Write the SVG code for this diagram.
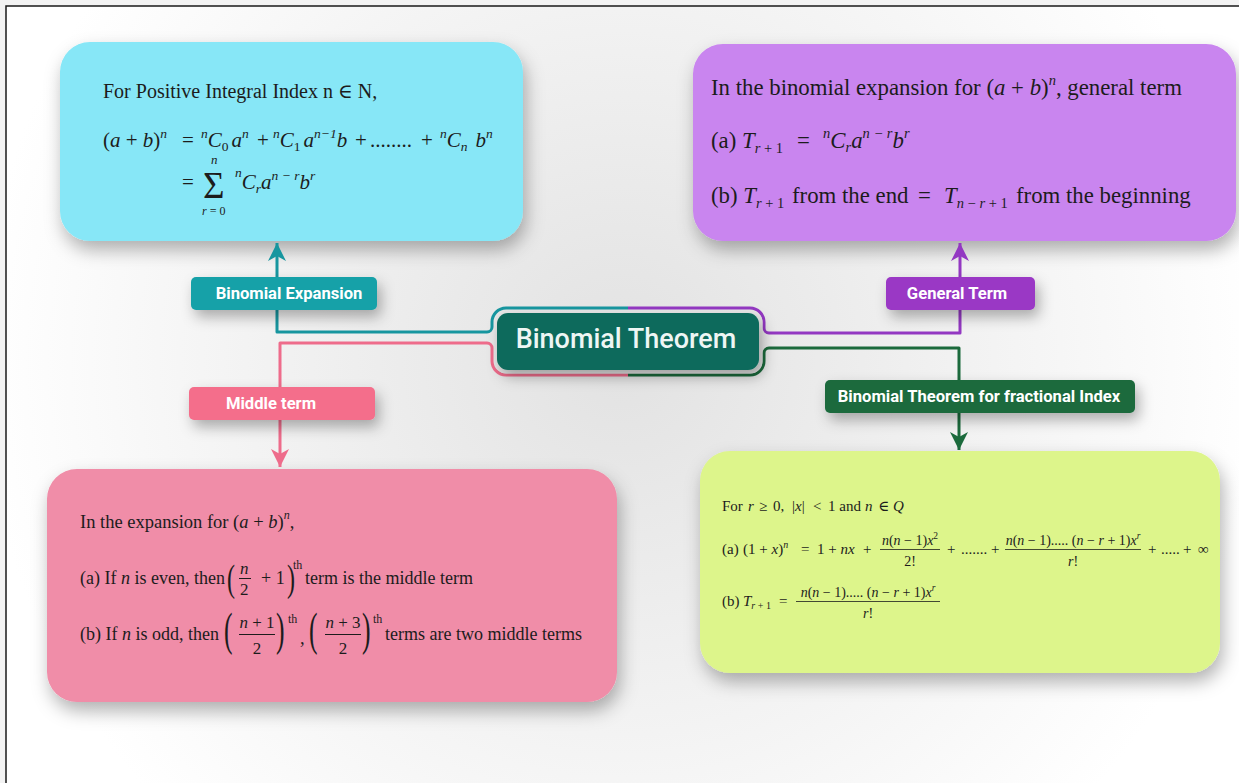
<svg xmlns="http://www.w3.org/2000/svg" width="1239" height="783" viewBox="0 0 1239 783">
<defs>
<style>
.s{font-family:"Liberation Serif","DejaVu Serif",serif;fill:#1c1c1c}
.i{font-style:italic}
.lbl{font-family:Roboto,"Liberation Sans",sans-serif;font-weight:700;fill:#ffffff;font-size:16.6px}
.box{filter:url(#sh)}
.ln{fill:none;stroke-width:3;stroke-linejoin:round}
.bar{stroke:#1c1c1c}
</style>
<radialGradient id="bg" cx="620" cy="360" r="640" gradientUnits="userSpaceOnUse">
<stop offset="0" stop-color="#e2e2e2"/>
<stop offset="0.55" stop-color="#f2f2f2"/>
<stop offset="1" stop-color="#ffffff"/>
</radialGradient>
<filter id="sh" x="-15%" y="-15%" width="135%" height="145%">
<feDropShadow dx="3" dy="9" stdDeviation="9" flood-color="#000" flood-opacity="0.3"/>
</filter>
<filter id="sh2" x="-20%" y="-40%" width="150%" height="220%">
<feDropShadow dx="4" dy="7" stdDeviation="7" flood-color="#000" flood-opacity="0.3"/>
</filter>
<marker id="aT" markerUnits="userSpaceOnUse" markerWidth="20" markerHeight="20" refX="18" refY="9" orient="auto"><path d="M0,0 L18,9 L0,18 L5,9 Z" fill="#17969f"/></marker>
<marker id="aP" markerUnits="userSpaceOnUse" markerWidth="20" markerHeight="20" refX="18" refY="9" orient="auto"><path d="M0,0 L18,9 L0,18 L5,9 Z" fill="#9338c2"/></marker>
<marker id="aK" markerUnits="userSpaceOnUse" markerWidth="20" markerHeight="20" refX="18" refY="9" orient="auto"><path d="M0,0 L18,9 L0,18 L5,9 Z" fill="#ee6c8b"/></marker>
<marker id="aG" markerUnits="userSpaceOnUse" markerWidth="20" markerHeight="20" refX="18" refY="9" orient="auto"><path d="M0,0 L18,9 L0,18 L5,9 Z" fill="#1b6a3c"/></marker>
</defs>

<rect x="0" y="0" width="1239" height="783" fill="#f3f3f3"/>
<rect x="6" y="6" width="1250" height="800" fill="url(#bg)" stroke="#1a1a1a" stroke-width="1.5"/>

<g id="box-expansion">
<rect class="box" x="60" y="42" width="463" height="199" rx="30" fill="#87e7f7"/>
<text class="s" x="103" y="98" font-size="20">For Positive Integral Index n ∈  N,</text>
<text class="s" y="147" font-size="21"><tspan x="103">(</tspan><tspan class="i">a</tspan> + <tspan class="i">b</tspan>)<tspan class="i" font-size="13.5" dy="-9">n</tspan><tspan x="182" dy="9">=</tspan><tspan x="201" class="i" font-size="13.5" dy="-9">n</tspan><tspan class="i" dy="9">C</tspan><tspan font-size="13.5" dy="4">0</tspan><tspan class="i" dx="3" dy="-4">a</tspan><tspan class="i" font-size="13.5" dy="-9">n</tspan><tspan x="257" dy="9">+</tspan><tspan x="273" class="i" font-size="13.5" dy="-9">n</tspan><tspan class="i" dy="9">C</tspan><tspan font-size="13.5" dy="4">1</tspan><tspan class="i" dx="3" dy="-4">a</tspan><tspan class="i" font-size="13.5" dy="-9">n−1</tspan><tspan class="i" dy="9">b</tspan><tspan x="355">+</tspan><tspan x="370">........</tspan><tspan x="421">+</tspan><tspan x="440" class="i" font-size="13.5" dy="-9">n</tspan><tspan class="i" dy="9">C</tspan><tspan class="i" font-size="13.5" dy="4">n</tspan><tspan class="i" dx="8" dy="-4">b</tspan><tspan class="i" font-size="13.5" dy="-9">n</tspan></text>
<text class="s" x="182" y="189" font-size="21">=</text>
<text class="s" x="203" y="198" font-size="37">Σ</text>
<text class="s i" x="211" y="164" font-size="13">n</text>
<text class="s" x="202" y="215" font-size="12"><tspan class="i">r</tspan> = 0</text>
<text class="s" y="189" font-size="21"><tspan x="235" class="i" font-size="13.5" dy="-12">n</tspan><tspan class="i" dy="12">C</tspan><tspan class="i" font-size="13.5" dy="4">r</tspan><tspan class="i" dy="-4">a</tspan><tspan class="i" font-size="13.5" dy="-9">n − r</tspan><tspan class="i" dy="9">b</tspan><tspan class="i" font-size="13.5" dy="-9">r</tspan></text>
</g>

<g id="box-general">
<rect class="box" x="693" y="44" width="543" height="197" rx="30" fill="#c985ef"/>
<text class="s" x="711" y="95" font-size="22.8">In the binomial expansion for (<tspan class="i">a</tspan> + <tspan class="i">b</tspan>)<tspan class="i" font-size="14.5" dy="-10">n</tspan><tspan dy="10">,  general term</tspan></text>
<text class="s" y="148" font-size="22.8"><tspan x="711">(a) </tspan><tspan class="i">T</tspan><tspan class="i" font-size="14.5" dy="5">r</tspan><tspan font-size="14.5"> + 1</tspan><tspan x="797" dy="-5">=</tspan><tspan x="823" class="i" font-size="14.5" dy="-10">n</tspan><tspan class="i" dy="10">C</tspan><tspan class="i" font-size="14.5" dy="4">r</tspan><tspan class="i" dy="-4">a</tspan><tspan class="i" font-size="14.5" dy="-10">n − r</tspan><tspan class="i" dy="10">b</tspan><tspan class="i" font-size="14.5" dy="-10">r</tspan></text>
<text class="s" y="203" font-size="22.8"><tspan x="711">(b) </tspan><tspan class="i">T</tspan><tspan class="i" font-size="14.5" dy="5">r</tspan><tspan font-size="14.5"> + 1</tspan><tspan x="792" dy="-5">from the end</tspan><tspan x="918">=</tspan><tspan x="944" class="i">T</tspan><tspan class="i" font-size="14.5" dy="5">n</tspan><tspan font-size="14.5"> − </tspan><tspan class="i" font-size="14.5">r</tspan><tspan font-size="14.5"> + 1</tspan><tspan x="1016" dy="-5">from the beginning</tspan></text>
</g>

<g id="box-middle">
<rect class="box" x="47" y="469" width="570" height="233" rx="30" fill="#f08da8"/>
<text class="s" x="80" y="528" font-size="18.5">In the expansion for (<tspan class="i">a</tspan> + <tspan class="i">b</tspan>)<tspan class="i" font-size="12" dy="-9">n</tspan><tspan dy="9">,</tspan></text>
<text class="s" y="584" font-size="18"><tspan x="80">(a) If </tspan><tspan class="i">n</tspan> is even, then</text>
<text class="s" font-size="30" transform="translate(227,591) scale(0.8,1.25)">(</text>
<text class="s i" x="240" y="574" font-size="17">n</text>
<line class="bar" x1="239" y1="578.5" x2="251" y2="578.5" stroke-width="1"/>
<text class="s" x="240" y="595" font-size="17">2</text>
<text class="s" x="261" y="584" font-size="18">+ 1</text>
<text class="s" font-size="30" transform="translate(287,591) scale(0.8,1.25)">)</text>
<text class="s" x="293" y="569" font-size="12">th</text>
<text class="s" x="305" y="584" font-size="18">term is the middle term</text>
<text class="s" y="640" font-size="18"><tspan x="80">(b) If </tspan><tspan class="i">n</tspan> is odd,  then</text>
<text class="s" font-size="32" transform="translate(224,645) scale(0.8,1.42)">(</text>
<text class="s" x="257" y="628" font-size="17" text-anchor="middle"><tspan class="i">n</tspan> + 1</text>
<line class="bar" x1="239" y1="634.5" x2="275" y2="634.5" stroke-width="1"/>
<text class="s" x="257" y="654" font-size="17" text-anchor="middle">2</text>
<text class="s" font-size="32" transform="translate(276,645) scale(0.8,1.42)">)</text>
<text class="s" x="288" y="623" font-size="12">th</text>
<text class="s" x="300" y="644" font-size="18.5">,</text>
<text class="s" font-size="32" transform="translate(309,645) scale(0.8,1.42)">(</text>
<text class="s" x="343" y="628" font-size="17" text-anchor="middle"><tspan class="i">n</tspan> + 3</text>
<line class="bar" x1="325" y1="634.5" x2="361" y2="634.5" stroke-width="1"/>
<text class="s" x="343" y="654" font-size="17" text-anchor="middle">2</text>
<text class="s" font-size="32" transform="translate(362,645) scale(0.8,1.42)">)</text>
<text class="s" x="373" y="623" font-size="12">th</text>
<text class="s" x="385" y="640" font-size="18">terms are two middle terms</text>
</g>

<g id="box-fractional">
<rect class="box" x="700" y="451" width="520" height="222" rx="30" fill="#ddf58b"/>
<text class="s" y="511" font-size="15"><tspan x="722">For</tspan><tspan x="748" class="i">r</tspan><tspan x="759">≥</tspan><tspan x="773">0,</tspan><tspan x="792">|</tspan><tspan class="i">x</tspan><tspan>|</tspan><tspan x="813">&lt;</tspan><tspan x="828">1 and</tspan><tspan x="865" class="i">n</tspan><tspan x="878">∈</tspan><tspan x="893" class="i">Q</tspan></text>
<text class="s" y="554" font-size="15"><tspan x="722">(a)</tspan><tspan x="743">(1 + </tspan><tspan class="i">x</tspan>)<tspan class="i" font-size="10" dy="-6">n</tspan><tspan x="801" dy="6">=</tspan><tspan x="817">1 + </tspan><tspan class="i">nx</tspan><tspan x="863">+</tspan></text>
<text class="s" x="910" y="545" font-size="14" text-anchor="middle"><tspan class="i">n</tspan>(<tspan class="i">n</tspan> − 1)<tspan class="i">x</tspan><tspan font-size="9.5" dy="-6">2</tspan></text>
<line class="bar" x1="880" y1="549.5" x2="940" y2="549.5" stroke-width="0.8"/>
<text class="s" x="910" y="566" font-size="14" text-anchor="middle">2!</text>
<text class="s" y="554" font-size="15"><tspan x="947">+</tspan><tspan x="961">.......</tspan><tspan x="991">+</tspan></text>
<text class="s" x="1073" y="545" font-size="14" text-anchor="middle"><tspan class="i">n</tspan>(<tspan class="i">n</tspan> − 1)..... (<tspan class="i">n</tspan> − <tspan class="i">r</tspan> + 1)<tspan class="i">x</tspan><tspan class="i" font-size="9.5" dy="-6">r</tspan></text>
<line class="bar" x1="1005" y1="549.5" x2="1141" y2="549.5" stroke-width="0.8"/>
<text class="s i" x="1073" y="566" font-size="14" text-anchor="middle">r<tspan font-style="normal">!</tspan></text>
<text class="s" y="554" font-size="15"><tspan x="1148">+</tspan><tspan x="1161">.....</tspan><tspan x="1183">+</tspan><tspan x="1198">∞</tspan></text>
<text class="s" y="606" font-size="15"><tspan x="722">(b)</tspan><tspan x="743" class="i">T</tspan><tspan class="i" font-size="10" dy="3">r</tspan><tspan font-size="10"> + 1</tspan><tspan x="779" dy="-3">=</tspan></text>
<text class="s" x="868" y="597" font-size="14" text-anchor="middle"><tspan class="i">n</tspan>(<tspan class="i">n</tspan> − 1)..... (<tspan class="i">n</tspan> − <tspan class="i">r</tspan> + 1)<tspan class="i">x</tspan><tspan class="i" font-size="9.5" dy="-6">r</tspan></text>
<line class="bar" x1="796" y1="601.5" x2="940" y2="601.5" stroke-width="0.8"/>
<text class="s i" x="868" y="618" font-size="14" text-anchor="middle">r<tspan font-style="normal">!</tspan></text>
</g>

<g id="connectors">
<path class="ln" d="M628 308 H506 A14 14 0 0 0 492 322 V327 A5 5 0 0 1 487 332 H277 V243" stroke="#17969f" marker-end="url(#aT)"/>
<path class="ln" d="M628 375 H506 A14 14 0 0 1 492 361 V348 A5 5 0 0 0 487 343 H280 V467" stroke="#ee6c8b" marker-end="url(#aK)"/>
<path class="ln" d="M628 308 H750 A14 14 0 0 1 764 322 V328 A5 5 0 0 0 769 333 H960 V243" stroke="#9338c2" marker-end="url(#aP)"/>
<path class="ln" d="M628 375 H750 A14 14 0 0 0 764 361 V353 A5 5 0 0 1 769 348 H959 V450" stroke="#1b6a3c" marker-end="url(#aG)"/>
</g>

<g id="label-expansion">
<rect x="191" y="277" width="186" height="33" rx="5" fill="#17a1a8" filter="url(#sh2)"/>
<text class="lbl" x="289" y="299" text-anchor="middle">Binomial Expansion</text>
</g>
<g id="label-general">
<rect x="886" y="277" width="149" height="33" rx="5" fill="#9a37c5" filter="url(#sh2)"/>
<text class="lbl" x="957" y="299" text-anchor="middle">General Term</text>
</g>
<g id="label-middle">
<rect x="189" y="387" width="186" height="33" rx="5" fill="#f46e8b" filter="url(#sh2)"/>
<text class="lbl" x="271" y="409" text-anchor="middle">Middle term</text>
</g>
<g id="label-fractional">
<rect x="825" y="380" width="310" height="33" rx="5" fill="#1b6b3d" filter="url(#sh2)"/>
<text class="lbl" x="979" y="402" text-anchor="middle">Binomial Theorem for fractional Index</text>
</g>

<g id="central">
<rect x="494.5" y="310.5" width="268" height="63" rx="12" fill="#e6e6e6"/>
<rect x="497" y="313" width="262" height="57" rx="11" fill="#0d6b5c" filter="url(#sh2)"/>
<text x="626" y="348" text-anchor="middle" font-family="Roboto,'Liberation Sans',sans-serif" font-weight="500" font-size="27" fill="#eef6f4">Binomial Theorem</text>
</g>
</svg>
